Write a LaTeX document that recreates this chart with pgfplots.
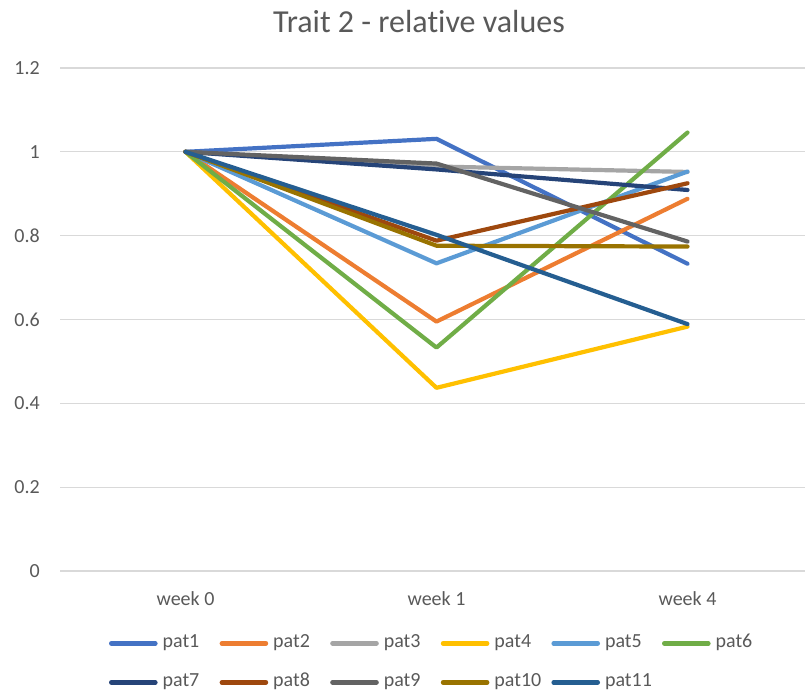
\documentclass[border=0pt]{standalone}
\usepackage{fontspec}
\setmainfont{Carlito}[Ligatures=NoCommon]
\usepackage{pgfplots}
\pgfplotsset{compat=1.18}
\definecolor{cA}{HTML}{4472C4}
\definecolor{cB}{HTML}{ED7D31}
\definecolor{cC}{HTML}{A5A5A5}
\definecolor{cD}{HTML}{FFC000}
\definecolor{cE}{HTML}{5B9BD5}
\definecolor{cF}{HTML}{70AD47}
\definecolor{cG}{HTML}{264478}
\definecolor{cH}{HTML}{9E480E}
\definecolor{cI}{HTML}{636363}
\definecolor{cJ}{HTML}{997300}
\definecolor{cK}{HTML}{255E91}
\definecolor{txt}{HTML}{595959}
\definecolor{grd}{HTML}{D9D9D9}
\begin{document}
\begin{tikzpicture}
\begin{axis}[
  at={(60bp,120bp)}, anchor=south west,
  scale only axis, width=753bp, height=503bp,
  xmin=-0.5, xmax=2.5, ymin=0, ymax=1.2,
  xtick={0,1,2}, xticklabels={week 0,week 1,week 4},
  ytick={0,0.2,...,1.2},
  /pgf/number format/assume math mode=true,
  yticklabel style={/pgf/number format/fixed,/pgf/number format/precision=1},
  axis line style={draw=none},
  major tick length=0pt,
  ymajorgrids, grid style={grd, line width=1.3bp},
  tick label style={font=\fontsize{20bp}{24bp}\selectfont, text=txt, inner sep=0pt},
  yticklabel style={anchor=east, xshift=-20bp},
  xticklabel style={anchor=base, yshift=-34bp},
  every axis plot/.append style={line width=4.2bp, line cap=round, line join=round},
  legend columns=6,
  legend cell align=left,
  legend image code/.code={\draw[#1, line width=4.6bp, line cap=round] (0bp,0bp) -- (44bp,0bp);},
  legend style={at={(axis description cs:0.0651,-0.125)}, anchor=north west,
    draw=none, fill=none, inner sep=0pt, outer sep=0pt,
    row sep=20bp,
    nodes={inner sep=0pt, text width=45bp, align=left, text height=14bp, text depth=5bp,
      font=\fontsize{20bp}{24bp}\selectfont, text=txt},
    /tikz/every odd column/.append style={column sep=5bp},
    /tikz/every even column/.append style={column sep=12bp}},
]
\addplot[cA] coordinates {(0,1) (1,1.031) (2,0.733)};
\addlegendentry{pat1}
\addplot[cB] coordinates {(0,1) (1,0.595) (2,0.888)};
\addlegendentry{pat2}
\addplot[cC] coordinates {(0,1) (1,0.965) (2,0.952)};
\addlegendentry{pat3}
\addplot[cD] coordinates {(0,1) (1,0.437) (2,0.583)};
\addlegendentry{pat4}
\addplot[cE] coordinates {(0,1) (1,0.734) (2,0.953)};
\addlegendentry{pat5}
\addplot[cF] coordinates {(0,1) (1,0.533) (2,1.046)};
\addlegendentry{pat6}
\addplot[cG] coordinates {(0,1) (1,0.958) (2,0.909)};
\addlegendentry{pat7}
\addplot[cH] coordinates {(0,1) (1,0.788) (2,0.925)};
\addlegendentry{pat8}
\addplot[cI] coordinates {(0,1) (1,0.972) (2,0.786)};
\addlegendentry{pat9}
\addplot[cJ] coordinates {(0,1) (1,0.776) (2,0.774)};
\addlegendentry{pat10}
\addplot[cK] coordinates {(0,1) (1,0.802) (2,0.589)};
\addlegendentry{pat11}
\end{axis}
\node[anchor=base, text=txt, font=\fontsize{32bp}{38bp}\selectfont, inner sep=0pt] at (419bp,658.7bp) {Trait 2 - relative values};
\pgfresetboundingbox
\useasboundingbox (0bp,0bp) rectangle (805bp,691bp);
\end{tikzpicture}
\end{document}
